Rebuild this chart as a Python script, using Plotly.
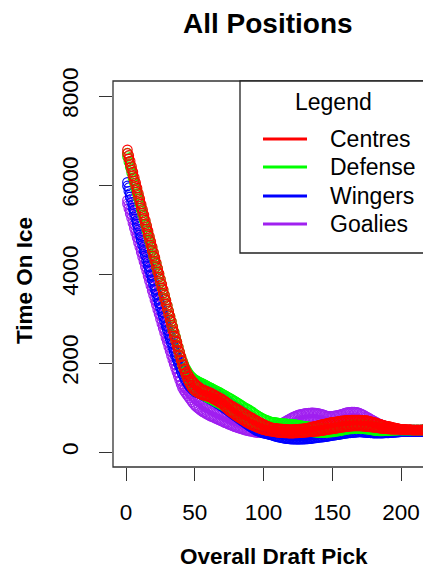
import plotly.graph_objects as go

# Smoothed time-on-ice by overall draft pick (upper and lower edge of each band)
centres_upper = [
    6790, 6665, 6540, 6415, 6290, 6170, 6050, 5930, 5810, 5690,
    5570, 5450, 5330, 5210, 5090, 4970, 4850, 4730, 4610, 4490,
    4370, 4250, 4130, 4010, 3890, 3770, 3650, 3530, 3410, 3290,
    3170, 3050, 2930, 2810, 2690, 2580, 2470, 2360, 2250, 2140,
    2040, 1950, 1870, 1800, 1740, 1690, 1640, 1600, 1565, 1535,
    1505, 1480, 1455, 1430, 1410, 1395, 1385, 1370, 1360, 1350,
    1335, 1320, 1300, 1285, 1270, 1250, 1235, 1215, 1200, 1180,
    1160, 1140, 1115, 1095, 1070, 1050, 1030, 1015, 995, 980,
    960, 940, 920, 900, 880, 860, 840, 825, 805, 790,
    770, 755, 735, 720, 700, 685, 670, 650, 635, 620,
    605, 590, 580, 565, 550, 545, 540, 535, 530, 525,
    520, 520, 515, 515, 510, 510, 510, 505, 505, 505,
    505, 505, 510, 510, 510, 515, 515, 520, 520, 525,
    530, 540, 545, 555, 560, 565, 575, 580, 590, 595,
    605, 610, 620, 625, 635, 640, 645, 655, 660, 665,
    670, 675, 680, 685, 690, 695, 700, 700, 705, 710,
    710, 715, 715, 720, 720, 720, 720, 720, 720, 720,
    715, 715, 710, 710, 705, 700, 690, 685, 675, 670,
    660, 650, 640, 630, 620, 610, 600, 595, 585, 580,
    575, 565, 560, 550, 545, 540, 530, 525, 515, 510,
    510, 505, 505, 500, 500, 500, 500, 495, 495, 495,
    495, 495, 495, 495, 495, 495, 495, 495,
]
centres_lower = [
    6710, 6585, 6460, 6335, 6210, 6090, 5970, 5850, 5730, 5610,
    5490, 5370, 5250, 5130, 5010, 4890, 4770, 4650, 4530, 4410,
    4290, 4170, 4050, 3930, 3810, 3690, 3570, 3450, 3330, 3210,
    3090, 2970, 2850, 2730, 2610, 2500, 2390, 2280, 2170, 2060,
    1960, 1870, 1780, 1700, 1620, 1560, 1500, 1450, 1410, 1385,
    1360, 1340, 1320, 1305, 1290, 1280, 1270, 1265, 1255, 1250,
    1235, 1220, 1200, 1185, 1170, 1150, 1135, 1115, 1100, 1080,
    1050, 1020, 990, 960, 930, 910, 890, 865, 845, 820,
    800, 780, 760, 740, 720, 700, 680, 665, 645, 630,
    615, 600, 590, 575, 560, 550, 535, 525, 510, 500,
    495, 490, 480, 475, 470, 465, 460, 455, 450, 445,
    440, 440, 435, 435, 430, 430, 430, 425, 425, 425,
    425, 425, 430, 430, 430, 435, 435, 440, 440, 445,
    445, 450, 450, 455, 455, 460, 460, 465, 465, 470,
    475, 480, 485, 490, 495, 500, 505, 510, 515, 520,
    525, 530, 535, 540, 545, 550, 555, 560, 565, 570,
    575, 575, 580, 580, 585, 585, 585, 585, 585, 585,
    585, 580, 580, 575, 575, 570, 565, 565, 560, 555,
    550, 550, 545, 540, 535, 530, 530, 525, 525, 520,
    520, 515, 515, 510, 510, 510, 510, 510, 510, 510,
    510, 505, 505, 500, 500, 500, 500, 495, 495, 495,
    495, 495, 495, 495, 495, 495, 495, 495,
]
defense_upper = [
    6720, 6600, 6480, 6360, 6240, 6120, 6000, 5890, 5770, 5650,
    5530, 5410, 5300, 5180, 5060, 4940, 4820, 4710, 4590, 4470,
    4350, 4230, 4120, 4000, 3880, 3760, 3640, 3530, 3410, 3290,
    3170, 3050, 2940, 2820, 2700, 2590, 2480, 2360, 2250, 2140,
    2050, 1970, 1900, 1840, 1790, 1750, 1710, 1680, 1650, 1625,
    1610, 1590, 1575, 1560, 1545, 1530, 1515, 1500, 1480, 1465,
    1450, 1435, 1420, 1400, 1385, 1370, 1355, 1340, 1320, 1305,
    1285, 1270, 1250, 1235, 1215, 1200, 1180, 1160, 1145, 1125,
    1105, 1085, 1065, 1045, 1025, 1005, 990, 970, 955, 935,
    915, 895, 870, 850, 830, 810, 790, 775, 755, 740,
    730, 715, 705, 690, 680, 675, 670, 665, 660, 655,
    650, 645, 645, 640, 640, 635, 635, 630, 630, 625,
    620, 615, 615, 610, 605, 600, 595, 590, 585, 580,
    575, 570, 565, 560, 555, 550, 550, 545, 545, 540,
    535, 530, 530, 525, 520, 525, 525, 530, 530, 535,
    540, 545, 550, 555, 560, 565, 570, 580, 585, 590,
    595, 600, 605, 610, 615, 615, 620, 620, 625, 625,
    620, 620, 615, 615, 610, 605, 600, 590, 585, 580,
    575, 570, 565, 560, 555, 550, 545, 540, 535, 530,
    525, 520, 520, 515, 510, 505, 505, 500, 500, 495,
    495, 495, 495, 495, 495, 495, 495, 495, 495, 495,
    495, 495, 495, 495, 495, 495, 495, 495,
]
defense_lower = [
    6640, 6520, 6400, 6280, 6160, 6040, 5920, 5810, 5690, 5570,
    5450, 5330, 5220, 5100, 4980, 4860, 4740, 4630, 4510, 4390,
    4270, 4150, 4040, 3920, 3800, 3680, 3560, 3450, 3330, 3210,
    3090, 2970, 2860, 2740, 2620, 2510, 2400, 2280, 2170, 2060,
    1960, 1870, 1790, 1710, 1640, 1580, 1520, 1470, 1420, 1380,
    1360, 1345, 1330, 1310, 1295, 1280, 1265, 1250, 1230, 1215,
    1200, 1185, 1170, 1150, 1135, 1120, 1105, 1090, 1070, 1055,
    1035, 1020, 1000, 985, 965, 945, 930, 910, 895, 875,
    855, 835, 815, 795, 775, 755, 740, 720, 705, 685,
    675, 665, 650, 640, 630, 625, 620, 610, 605, 600,
    595, 590, 590, 585, 580, 575, 570, 565, 560, 555,
    550, 550, 545, 545, 540, 535, 535, 530, 530, 525,
    520, 515, 515, 510, 505, 500, 495, 490, 485, 480,
    475, 470, 465, 460, 455, 450, 450, 445, 445, 440,
    440, 440, 440, 440, 440, 440, 445, 445, 450, 450,
    455, 460, 465, 470, 475, 480, 485, 495, 500, 505,
    510, 515, 520, 520, 525, 525, 530, 530, 530, 530,
    530, 525, 520, 520, 515, 510, 505, 500, 495, 490,
    485, 480, 480, 475, 475, 475, 475, 480, 480, 480,
    480, 485, 485, 490, 490, 490, 490, 495, 495, 495,
    495, 495, 495, 495, 495, 495, 495, 495, 495, 495,
    495, 495, 495, 495, 495, 495, 495, 495,
]
wingers_upper = [
    6060, 5940, 5810, 5690, 5560, 5440, 5320, 5200, 5080, 4960,
    4840, 4730, 4610, 4500, 4380, 4270, 4160, 4060, 3950, 3840,
    3740, 3640, 3530, 3430, 3330, 3230, 3130, 3020, 2920, 2820,
    2720, 2620, 2530, 2430, 2330, 2240, 2160, 2070, 1990, 1900,
    1840, 1790, 1750, 1710, 1675, 1650, 1630, 1610, 1595, 1580,
    1565, 1550, 1540, 1525, 1510, 1495, 1480, 1460, 1445, 1430,
    1410, 1395, 1375, 1360, 1340, 1320, 1300, 1280, 1260, 1240,
    1220, 1200, 1175, 1155, 1130, 1110, 1085, 1065, 1040, 1020,
    1000, 975, 955, 930, 910, 890, 865, 845, 820, 800,
    780, 760, 740, 720, 700, 675, 650, 625, 600, 575,
    555, 535, 510, 490, 470, 460, 450, 440, 430, 420,
    415, 410, 400, 395, 390, 385, 380, 380, 375, 370,
    370, 370, 365, 365, 365, 365, 365, 370, 370, 370,
    375, 375, 380, 380, 385, 390, 395, 395, 400, 405,
    410, 415, 415, 420, 425, 430, 435, 440, 445, 450,
    455, 460, 465, 470, 475, 480, 485, 490, 495, 500,
    505, 510, 510, 515, 520, 520, 525, 525, 530, 530,
    530, 525, 525, 520, 520, 515, 515, 510, 510, 505,
    500, 500, 495, 490, 485, 480, 480, 475, 475, 470,
    470, 465, 465, 460, 460, 460, 460, 455, 455, 455,
    455, 460, 460, 460, 460, 460, 460, 460, 460, 460,
    460, 460, 460, 460, 460, 460, 460, 460,
]
wingers_lower = [
    5980, 5860, 5730, 5610, 5480, 5360, 5240, 5120, 5000, 4880,
    4760, 4650, 4530, 4420, 4300, 4190, 4080, 3980, 3870, 3760,
    3660, 3560, 3450, 3350, 3250, 3150, 3050, 2940, 2840, 2740,
    2640, 2540, 2450, 2350, 2250, 2160, 2080, 1990, 1910, 1820,
    1750, 1690, 1630, 1575, 1525, 1485, 1450, 1415, 1385, 1360,
    1345, 1330, 1320, 1305, 1290, 1275, 1260, 1240, 1225, 1210,
    1190, 1175, 1155, 1140, 1120, 1100, 1080, 1060, 1040, 1020,
    1000, 980, 955, 935, 910, 890, 865, 845, 820, 800,
    780, 755, 735, 710, 690, 670, 645, 625, 600, 580,
    560, 540, 520, 500, 480, 470, 460, 450, 435, 425,
    420, 410, 405, 395, 390, 380, 370, 360, 350, 340,
    335, 330, 320, 315, 310, 305, 300, 300, 295, 290,
    290, 290, 285, 285, 285, 285, 285, 290, 290, 290,
    295, 295, 300, 300, 305, 310, 315, 315, 320, 325,
    330, 335, 335, 340, 345, 350, 355, 360, 365, 370,
    375, 380, 385, 390, 395, 400, 405, 410, 415, 420,
    425, 430, 430, 435, 440, 440, 445, 445, 450, 450,
    450, 445, 445, 440, 440, 435, 435, 430, 430, 425,
    425, 425, 425, 425, 425, 425, 425, 430, 430, 430,
    430, 435, 435, 440, 440, 445, 445, 450, 450, 455,
    455, 460, 460, 460, 460, 460, 460, 460, 460, 460,
    460, 460, 460, 460, 460, 460, 460, 460,
]
goalies_upper = [
    5660, 5550, 5440, 5330, 5220, 5110, 5000, 4900, 4790, 4680,
    4570, 4460, 4360, 4250, 4140, 4030, 3920, 3820, 3710, 3600,
    3490, 3390, 3280, 3180, 3070, 2970, 2860, 2760, 2650, 2550,
    2450, 2350, 2250, 2150, 2050, 1960, 1870, 1780, 1690, 1600,
    1530, 1480, 1440, 1405, 1380, 1345, 1310, 1270, 1235, 1200,
    1175, 1150, 1130, 1105, 1080, 1060, 1040, 1020, 1000, 980,
    965, 950, 930, 915, 900, 885, 870, 860, 845, 830,
    815, 800, 790, 775, 760, 750, 735, 725, 710, 700,
    690, 680, 670, 660, 650, 640, 630, 625, 615, 610,
    605, 600, 590, 585, 580, 575, 570, 570, 565, 560,
    560, 565, 565, 570, 570, 575, 580, 590, 595, 600,
    615, 630, 640, 655, 670, 690, 705, 725, 740, 760,
    775, 790, 800, 815, 830, 835, 845, 850, 860, 865,
    870, 870, 875, 875, 880, 880, 875, 875, 870, 865,
    860, 850, 840, 830, 820, 810, 805, 800, 800, 805,
    810, 815, 820, 825, 830, 840, 850, 860, 870, 880,
    885, 890, 895, 900, 900, 900, 895, 890, 880, 870,
    855, 840, 825, 805, 790, 770, 755, 735, 720, 700,
    685, 665, 650, 635, 620, 610, 600, 590, 580, 570,
    560, 550, 545, 535, 530, 525, 520, 510, 505, 500,
    500, 500, 495, 495, 495, 495, 495, 495, 495, 495,
    495, 495, 495, 495, 495, 495, 495, 495,
]
goalies_lower = [
    5580, 5470, 5360, 5250, 5140, 5030, 4920, 4820, 4710, 4600,
    4490, 4380, 4280, 4170, 4060, 3950, 3840, 3740, 3630, 3520,
    3410, 3310, 3200, 3100, 2990, 2890, 2780, 2680, 2570, 2470,
    2370, 2270, 2170, 2070, 1970, 1880, 1790, 1700, 1610, 1520,
    1450, 1390, 1340, 1300, 1260, 1215, 1175, 1130, 1090, 1050,
    1025, 995, 970, 945, 920, 900, 885, 865, 850, 830,
    815, 800, 790, 775, 760, 745, 730, 720, 705, 690,
    675, 660, 650, 635, 620, 610, 595, 585, 570, 560,
    550, 540, 530, 520, 510, 500, 490, 485, 475, 470,
    465, 460, 450, 445, 440, 440, 435, 435, 430, 430,
    430, 435, 435, 440, 440, 440, 445, 445, 450, 450,
    465, 480, 490, 505, 520, 540, 555, 575, 590, 610,
    625, 640, 650, 665, 680, 685, 695, 700, 710, 715,
    720, 720, 725, 725, 730, 730, 725, 725, 720, 715,
    710, 700, 690, 680, 670, 660, 655, 650, 650, 655,
    660, 665, 670, 675, 680, 690, 700, 710, 720, 730,
    735, 740, 745, 750, 750, 750, 745, 740, 730, 720,
    705, 690, 675, 655, 640, 625, 610, 590, 575, 560,
    550, 535, 520, 510, 500, 495, 490, 490, 485, 480,
    480, 480, 480, 480, 480, 485, 485, 490, 490, 495,
    495, 495, 495, 495, 495, 495, 495, 495, 495, 495,
    495, 495, 495, 495, 495, 495, 495, 495,
]

legend_labels = ["Centres", "Defense", "Wingers", "Goalies"]
colors = {"Centres": "#FF0000", "Defense": "#00FF00",
          "Wingers": "#0000FF", "Goalies": "#A020F0"}

# draw order: goalies underneath, centres on top
bands = [
    ("Goalies", goalies_upper, goalies_lower),
    ("Wingers", wingers_upper, wingers_lower),
    ("Defense", defense_upper, defense_lower),
    ("Centres", centres_upper, centres_lower),
]

x_ticks = [0, 50, 100, 150, 200]
y_ticks = [0, 2000, 4000, 6000, 8000]

FONT = "Liberation Sans, Arial, sans-serif"
W, H = 423, 569
ML, MT, MB = 113, 81, 102
PW = W - ML
PH = H - MT - MB


def px_x(px):
    return (px - ML) / PW


def px_y(py):
    return (H - MB - py) / PH


fig = go.Figure()
for name, upper, lower in bands:
    for vals in (upper, lower):
        fig.add_trace(go.Scatter(
            x=list(range(1, len(vals) + 1)), y=vals, mode="markers",
            marker=dict(symbol="circle-open", size=9.5, color=colors[name],
                        line=dict(width=1.1, color=colors[name])),
            name=name, showlegend=False, hoverinfo="skip",
        ))

axis_common = dict(showgrid=False, zeroline=False, showline=False,
                   ticks="outside", ticklen=13, tickwidth=1.2, tickcolor="#333",
                   tickfont=dict(family=FONT, size=22.5, color="#000"))
fig.update_xaxes(range=[-9.5, 216], tickvals=x_ticks, ticklabelstandoff=12,
                 **axis_common)
fig.update_yaxes(range=[-337, 8337], tickvals=y_ticks, tickangle=-90,
                 ticklabelstandoff=12, **axis_common)


def label(text, x, y, size, angle=0, xanchor="center"):
    return dict(text=text, x=px_x(x), y=px_y(y), xref="paper", yref="paper",
                xanchor=xanchor, yanchor="middle", showarrow=False,
                textangle=angle, font=dict(family=FONT, size=size, color="#000"))


shapes = [
    # plot box (right side runs past the page edge)
    dict(type="rect", xref="paper", yref="paper", x0=0, x1=1.3, y0=0, y1=1,
         line=dict(color="#333", width=1.3)),
    # legend box
    dict(type="rect", xref="paper", yref="paper", x0=px_x(240), x1=1.3,
         y0=px_y(253), y1=1, line=dict(color="#222", width=1.3),
         fillcolor="white", layer="above"),
]
annotations = [
    label("<b>All Positions</b>", 268, 24, 28),
    label("<b>Overall Draft Pick</b>", 274, 556, 22.5),
    label("<b>Time On Ice</b>", 24, 281, 22.5, angle=-90),
    label("Legend", 333, 102, 23),
]
legend_rows = [139, 167, 196, 224]
for name, row in zip(legend_labels, legend_rows):
    shapes.append(dict(type="line", xref="paper", yref="paper",
                       x0=px_x(263), x1=px_x(307), y0=px_y(row), y1=px_y(row),
                       line=dict(color=colors[name], width=3), layer="above"))
    annotations.append(label(name, 328, row, 23, xanchor="left"))

fig.update_layout(
    width=W, height=H, margin=dict(l=ML, r=0, t=MT, b=MB, pad=0),
    paper_bgcolor="white", plot_bgcolor="white",
    shapes=shapes, annotations=annotations,
)

fig.write_html("out.html")
